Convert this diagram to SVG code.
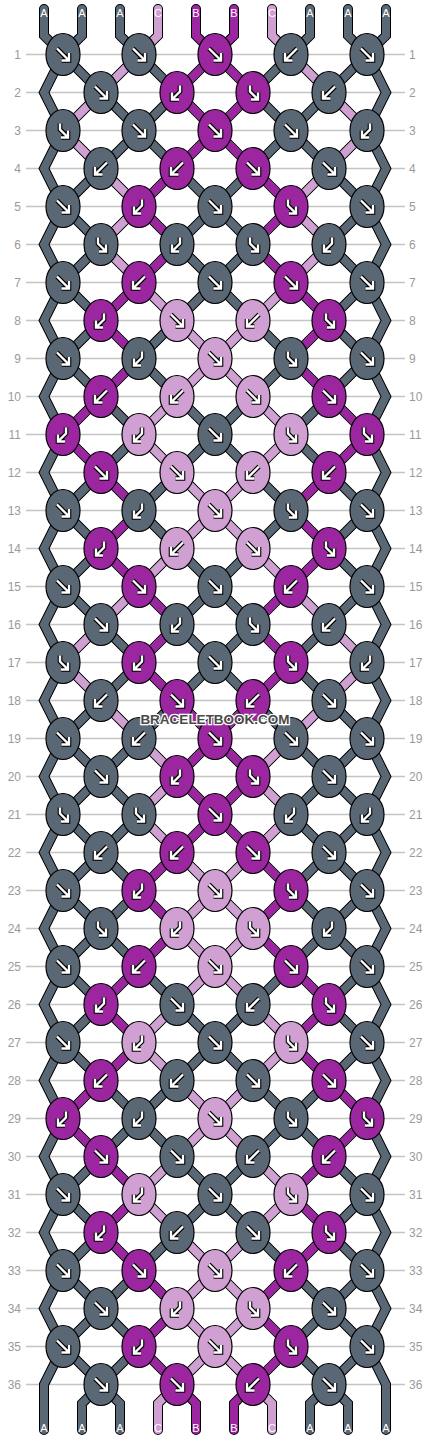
<svg xmlns="http://www.w3.org/2000/svg" width="430" height="1440" viewBox="0 0 430 1440">
<style>
.rl{fill:none;stroke:#c4c4c4;stroke-width:1.3}
.rn{font-family:"Liberation Sans",Arial,sans-serif;font-size:12px;fill:#9a9a9a}
.ol{fill:none;stroke:#000;stroke-width:10;stroke-linecap:round;stroke-linejoin:miter}
.f{fill:none;stroke-width:8;stroke-linecap:round;stroke-linejoin:miter}
.fA{stroke:#5a6875}.fB{stroke:#9b26a0}.fC{stroke:#d0a0d2}
ellipse{stroke:#000;stroke-width:1.2}
.kA ellipse{fill:#5a6875}.kB ellipse{fill:#9b26a0}.kC ellipse{fill:#d0a0d2}
.go{fill:none;stroke:#000;stroke-width:4.6}
.gi{fill:none;stroke:#fff;stroke-width:2.4}
.lb{font-family:"Liberation Sans",Arial,sans-serif;font-size:11px;fill:#fff;text-anchor:middle}
.wm{font-family:"Liberation Sans",Arial,sans-serif;font-size:13.5px;font-weight:bold;fill:#4a4a4a;stroke:#fff;stroke-width:2.5;paint-order:stroke;text-anchor:middle}
</style>
<defs>
<path id="pf" d="M-6-6L5.5 5.5M6-1.5V6H-1.5"/>
<path id="pb" d="M6-6L-5.5 5.5M-6-1.5V6H1.5"/>
<path id="pl" d="M3-7V-1L-4.5 6.5M-5 0V7H2"/>
<path id="pr" d="M-3-7V-1L4.5 6.5M5 0V7H-2"/>
<g id="gf"><use href="#pf" class="go"/><use href="#pf" class="gi"/></g>
<g id="gb"><use href="#pb" class="go"/><use href="#pb" class="gi"/></g>
<g id="gl"><use href="#pl" class="go"/><use href="#pl" class="gi"/></g>
<g id="gr"><use href="#pr" class="go"/><use href="#pr" class="gi"/></g>
</defs>
<g id="rows">
<path class="rl" d="M26 54.5H405M26 92.5H405M26 130.5H405M26 168.5H405M26 206.5H405M26 244.5H405M26 282.5H405M26 320.5H405M26 358.5H405M26 396.5H405M26 434.5H405M26 472.5H405M26 510.5H405M26 548.5H405M26 586.5H405M26 624.5H405M26 662.5H405M26 700.5H405M26 738.5H405M26 776.5H405M26 814.5H405M26 852.5H405M26 890.5H405M26 928.5H405M26 966.5H405M26 1004.5H405M26 1042.5H405M26 1080.5H405M26 1118.5H405M26 1156.5H405M26 1194.5H405M26 1232.5H405M26 1270.5H405M26 1308.5H405M26 1346.5H405M26 1384.5H405"/>
<g class="rn" text-anchor="end">
<text x="21" y="58.5">1</text><text x="21" y="96.5">2</text><text x="21" y="134.5">3</text><text x="21" y="172.5">4</text><text x="21" y="210.5">5</text><text x="21" y="248.5">6</text><text x="21" y="286.5">7</text><text x="21" y="324.5">8</text><text x="21" y="362.5">9</text><text x="21" y="400.5">10</text><text x="21" y="438.5">11</text><text x="21" y="476.5">12</text><text x="21" y="514.5">13</text><text x="21" y="552.5">14</text><text x="21" y="590.5">15</text><text x="21" y="628.5">16</text><text x="21" y="666.5">17</text><text x="21" y="704.5">18</text><text x="21" y="742.5">19</text><text x="21" y="780.5">20</text><text x="21" y="818.5">21</text><text x="21" y="856.5">22</text><text x="21" y="894.5">23</text><text x="21" y="932.5">24</text><text x="21" y="970.5">25</text><text x="21" y="1008.5">26</text><text x="21" y="1046.5">27</text><text x="21" y="1084.5">28</text><text x="21" y="1122.5">29</text><text x="21" y="1160.5">30</text><text x="21" y="1198.5">31</text><text x="21" y="1236.5">32</text><text x="21" y="1274.5">33</text><text x="21" y="1312.5">34</text><text x="21" y="1350.5">35</text><text x="21" y="1388.5">36</text>
</g>
<g class="rn" text-anchor="start">
<text x="409" y="58.5">1</text><text x="409" y="96.5">2</text><text x="409" y="134.5">3</text><text x="409" y="172.5">4</text><text x="409" y="210.5">5</text><text x="409" y="248.5">6</text><text x="409" y="286.5">7</text><text x="409" y="324.5">8</text><text x="409" y="362.5">9</text><text x="409" y="400.5">10</text><text x="409" y="438.5">11</text><text x="409" y="476.5">12</text><text x="409" y="514.5">13</text><text x="409" y="552.5">14</text><text x="409" y="590.5">15</text><text x="409" y="628.5">16</text><text x="409" y="666.5">17</text><text x="409" y="704.5">18</text><text x="409" y="742.5">19</text><text x="409" y="780.5">20</text><text x="409" y="818.5">21</text><text x="409" y="856.5">22</text><text x="409" y="894.5">23</text><text x="409" y="932.5">24</text><text x="409" y="970.5">25</text><text x="409" y="1008.5">26</text><text x="409" y="1046.5">27</text><text x="409" y="1084.5">28</text><text x="409" y="1122.5">29</text><text x="409" y="1160.5">30</text><text x="409" y="1198.5">31</text><text x="409" y="1236.5">32</text><text x="409" y="1274.5">33</text><text x="409" y="1312.5">34</text><text x="409" y="1350.5">35</text><text x="409" y="1388.5">36</text>
</g>
</g>
<g id="connectors">
<path id="lattice" class="ol" d="M291 54.5l76 76M215 54.5l152 152M139 54.5l228 228M63 54.5l304 304M63 130.5l304 304M63 206.5l304 304M63 282.5l304 304M63 358.5l304 304M63 434.5l304 304M63 510.5l304 304M63 586.5l304 304M63 662.5l304 304M63 738.5l304 304M63 814.5l304 304M63 890.5l304 304M63 966.5l304 304M63 1042.5l304 304M63 1118.5l266 266M63 1194.5l190 190M63 1270.5l114 114M63 1346.5l38 38M139 54.5l-76 76M215 54.5l-152 152M291 54.5l-228 228M367 54.5l-304 304M367 130.5l-304 304M367 206.5l-304 304M367 282.5l-304 304M367 358.5l-304 304M367 434.5l-304 304M367 510.5l-304 304M367 586.5l-304 304M367 662.5l-304 304M367 738.5l-304 304M367 814.5l-304 304M367 890.5l-304 304M367 966.5l-304 304M367 1042.5l-304 304M367 1118.5l-266 266M367 1194.5l-190 190M367 1270.5l-114 114M367 1346.5l-38 38M44 9V35.5L63 54.5l-19 38l19 38l-19 38l19 38l-19 38l19 38l-19 38l19 38l-19 38l19 38l-19 38l19 38l-19 38l19 38l-19 38l19 38l-19 38l19 38l-19 38l19 38l-19 38l19 38l-19 38l19 38l-19 38l19 38l-19 38l19 38l-19 38l19 38l-19 38l19 38l-19 38l19 38l-19 38V1430M386 9V35.5L367 54.5l19 38l-19 38l19 38l-19 38l19 38l-19 38l19 38l-19 38l19 38l-19 38l19 38l-19 38l19 38l-19 38l19 38l-19 38l19 38l-19 38l19 38l-19 38l19 38l-19 38l19 38l-19 38l19 38l-19 38l19 38l-19 38l19 38l-19 38l19 38l-19 38l19 38l-19 38l19 38V1430M82 9V35.5L63 54.5M120 9V35.5L139 54.5M158 9V35.5L139 54.5M196 9V35.5L215 54.5M234 9V35.5L215 54.5M272 9V35.5L291 54.5M310 9V35.5L291 54.5M348 9V35.5L367 54.5M101 1384.5L82 1403.5V1430M101 1384.5L120 1403.5V1430M177 1384.5L158 1403.5V1430M177 1384.5L196 1403.5V1430M253 1384.5L234 1403.5V1430M253 1384.5L272 1403.5V1430M329 1384.5L310 1403.5V1430M329 1384.5L348 1403.5V1430"/>
<path class="f fA" d="M291 54.5l76 76M215 54.5l152 152M139 54.5l228 228M63 54.5l304 304M63 130.5l304 304M63 206.5l304 304M63 282.5l304 304M63 358.5l304 304M63 434.5l304 304M63 510.5l304 304M63 586.5l304 304M63 662.5l304 304M63 738.5l304 304M63 814.5l304 304M63 890.5l304 304M63 966.5l304 304M63 1042.5l304 304M63 1118.5l266 266M63 1194.5l190 190M63 1270.5l114 114M63 1346.5l38 38M139 54.5l-76 76M215 54.5l-152 152M291 54.5l-228 228M367 54.5l-304 304M367 130.5l-304 304M367 206.5l-304 304M367 282.5l-304 304M367 358.5l-304 304M367 434.5l-304 304M367 510.5l-304 304M367 586.5l-304 304M367 662.5l-304 304M367 738.5l-304 304M367 814.5l-304 304M367 890.5l-304 304M367 966.5l-304 304M367 1042.5l-304 304M367 1118.5l-266 266M367 1194.5l-190 190M367 1270.5l-114 114M367 1346.5l-38 38M44 9V35.5L63 54.5l-19 38l19 38l-19 38l19 38l-19 38l19 38l-19 38l19 38l-19 38l19 38l-19 38l19 38l-19 38l19 38l-19 38l19 38l-19 38l19 38l-19 38l19 38l-19 38l19 38l-19 38l19 38l-19 38l19 38l-19 38l19 38l-19 38l19 38l-19 38l19 38l-19 38l19 38l-19 38V1430M386 9V35.5L367 54.5l19 38l-19 38l19 38l-19 38l19 38l-19 38l19 38l-19 38l19 38l-19 38l19 38l-19 38l19 38l-19 38l19 38l-19 38l19 38l-19 38l19 38l-19 38l19 38l-19 38l19 38l-19 38l19 38l-19 38l19 38l-19 38l19 38l-19 38l19 38l-19 38l19 38l-19 38l19 38V1430M82 9V35.5L63 54.5M120 9V35.5L139 54.5M310 9V35.5L291 54.5M348 9V35.5L367 54.5M101 1384.5L82 1403.5V1430M101 1384.5L120 1403.5V1430M329 1384.5L310 1403.5V1430M329 1384.5L348 1403.5V1430"/>
<path class="f fC" d="M158 9V35.5L139 54.5M272 9V35.5L291 54.5M177 1384.5L158 1403.5V1430M253 1384.5L272 1403.5V1430"/>
<path class="f fB" d="M196 9V35.5L215 54.5M234 9V35.5L215 54.5M177 1384.5L196 1403.5V1430M253 1384.5L234 1403.5V1430"/>
<path class="f fB" d="M215 54.5l-38 38M215 54.5l38 38M177 92.5l38 38M253 92.5l-38 38M215 130.5l-38 38M215 130.5l38 38M177 168.5l-38 38M253 168.5l38 38M139 206.5l38 38M291 206.5l-38 38M177 244.5l-38 38M253 244.5l38 38M139 282.5l-38 38M291 282.5l38 38M101 320.5l38 38M329 320.5l-38 38M139 358.5l-38 38M291 358.5l38 38M101 396.5l-38 38M329 396.5l38 38M63 434.5l38 38M367 434.5l-38 38M101 472.5l38 38M329 472.5l-38 38M139 510.5l-38 38M291 510.5l38 38M101 548.5l38 38M329 548.5l-38 38M139 586.5l38 38M291 586.5l-38 38M177 624.5l-38 38M253 624.5l38 38M139 662.5l38 38M291 662.5l-38 38M177 700.5l38 38M253 700.5l-38 38M215 738.5l-38 38M215 738.5l38 38M177 776.5l38 38M253 776.5l-38 38M215 814.5l-38 38M215 814.5l38 38M177 852.5l-38 38M253 852.5l38 38M139 890.5l38 38M291 890.5l-38 38M177 928.5l-38 38M253 928.5l38 38M139 966.5l-38 38M291 966.5l38 38M101 1004.5l38 38M329 1004.5l-38 38M139 1042.5l-38 38M291 1042.5l38 38M101 1080.5l-38 38M329 1080.5l38 38M63 1118.5l38 38M367 1118.5l-38 38M101 1156.5l38 38M329 1156.5l-38 38M139 1194.5l-38 38M291 1194.5l38 38M101 1232.5l38 38M329 1232.5l-38 38M139 1270.5l38 38M291 1270.5l-38 38M177 1308.5l-38 38M253 1308.5l38 38M139 1346.5l38 38M291 1346.5l-38 38"/>
<path class="f fC" d="M139 54.5l-38 38M291 54.5l38 38M101 92.5l-38 38M329 92.5l38 38M63 130.5l38 38M367 130.5l-38 38M101 168.5l38 38M329 168.5l-38 38M139 206.5l-38 38M291 206.5l38 38M101 244.5l38 38M329 244.5l-38 38M139 282.5l38 38M291 282.5l-38 38M177 320.5l38 38M253 320.5l-38 38M215 358.5l-38 38M215 358.5l38 38M177 396.5l-38 38M253 396.5l38 38M139 434.5l38 38M291 434.5l-38 38M177 472.5l38 38M253 472.5l-38 38M215 510.5l-38 38M215 510.5l38 38M177 548.5l-38 38M253 548.5l38 38M139 586.5l-38 38M291 586.5l38 38M101 624.5l-38 38M329 624.5l38 38M63 662.5l38 38M367 662.5l-38 38M101 700.5l38 38M329 700.5l-38 38M139 738.5l38 38M291 738.5l-38 38M177 776.5l-38 38M253 776.5l38 38M139 814.5l38 38M291 814.5l-38 38M177 852.5l38 38M253 852.5l-38 38M215 890.5l-38 38M215 890.5l38 38M177 928.5l38 38M253 928.5l-38 38M215 966.5l-38 38M215 966.5l38 38M177 1004.5l-38 38M253 1004.5l38 38M139 1042.5l38 38M291 1042.5l-38 38M177 1080.5l38 38M253 1080.5l-38 38M215 1118.5l-38 38M215 1118.5l38 38M177 1156.5l-38 38M253 1156.5l38 38M139 1194.5l38 38M291 1194.5l-38 38M177 1232.5l38 38M253 1232.5l-38 38M215 1270.5l-38 38M215 1270.5l38 38M177 1308.5l38 38M253 1308.5l-38 38M215 1346.5l-38 38M215 1346.5l38 38"/>
</g>
<g id="knots">
<g id="k1-1" class="kA" transform="translate(63 54.5)"><ellipse rx="17" ry="21"/><use href="#gf"/></g>
<g id="k1-2" class="kA" transform="translate(139 54.5)"><ellipse rx="17" ry="21"/><use href="#gf"/></g>
<g id="k1-3" class="kB" transform="translate(215 54.5)"><ellipse rx="17" ry="21"/><use href="#gf"/></g>
<g id="k1-4" class="kA" transform="translate(291 54.5)"><ellipse rx="17" ry="21"/><use href="#gb"/></g>
<g id="k1-5" class="kA" transform="translate(367 54.5)"><ellipse rx="17" ry="21"/><use href="#gf"/></g>
<g id="k2-1" class="kA" transform="translate(101 92.5)"><ellipse rx="17" ry="21"/><use href="#gf"/></g>
<g id="k2-2" class="kB" transform="translate(177 92.5)"><ellipse rx="17" ry="21"/><use href="#gl"/></g>
<g id="k2-3" class="kB" transform="translate(253 92.5)"><ellipse rx="17" ry="21"/><use href="#gr"/></g>
<g id="k2-4" class="kA" transform="translate(329 92.5)"><ellipse rx="17" ry="21"/><use href="#gb"/></g>
<g id="k3-1" class="kA" transform="translate(63 130.5)"><ellipse rx="17" ry="21"/><use href="#gr"/></g>
<g id="k3-2" class="kA" transform="translate(139 130.5)"><ellipse rx="17" ry="21"/><use href="#gf"/></g>
<g id="k3-3" class="kB" transform="translate(215 130.5)"><ellipse rx="17" ry="21"/><use href="#gf"/></g>
<g id="k3-4" class="kA" transform="translate(291 130.5)"><ellipse rx="17" ry="21"/><use href="#gf"/></g>
<g id="k3-5" class="kA" transform="translate(367 130.5)"><ellipse rx="17" ry="21"/><use href="#gl"/></g>
<g id="k4-1" class="kA" transform="translate(101 168.5)"><ellipse rx="17" ry="21"/><use href="#gb"/></g>
<g id="k4-2" class="kB" transform="translate(177 168.5)"><ellipse rx="17" ry="21"/><use href="#gb"/></g>
<g id="k4-3" class="kB" transform="translate(253 168.5)"><ellipse rx="17" ry="21"/><use href="#gf"/></g>
<g id="k4-4" class="kA" transform="translate(329 168.5)"><ellipse rx="17" ry="21"/><use href="#gf"/></g>
<g id="k5-1" class="kA" transform="translate(63 206.5)"><ellipse rx="17" ry="21"/><use href="#gf"/></g>
<g id="k5-2" class="kB" transform="translate(139 206.5)"><ellipse rx="17" ry="21"/><use href="#gl"/></g>
<g id="k5-3" class="kA" transform="translate(215 206.5)"><ellipse rx="17" ry="21"/><use href="#gf"/></g>
<g id="k5-4" class="kB" transform="translate(291 206.5)"><ellipse rx="17" ry="21"/><use href="#gr"/></g>
<g id="k5-5" class="kA" transform="translate(367 206.5)"><ellipse rx="17" ry="21"/><use href="#gf"/></g>
<g id="k6-1" class="kA" transform="translate(101 244.5)"><ellipse rx="17" ry="21"/><use href="#gr"/></g>
<g id="k6-2" class="kA" transform="translate(177 244.5)"><ellipse rx="17" ry="21"/><use href="#gl"/></g>
<g id="k6-3" class="kA" transform="translate(253 244.5)"><ellipse rx="17" ry="21"/><use href="#gr"/></g>
<g id="k6-4" class="kA" transform="translate(329 244.5)"><ellipse rx="17" ry="21"/><use href="#gl"/></g>
<g id="k7-1" class="kA" transform="translate(63 282.5)"><ellipse rx="17" ry="21"/><use href="#gf"/></g>
<g id="k7-2" class="kB" transform="translate(139 282.5)"><ellipse rx="17" ry="21"/><use href="#gb"/></g>
<g id="k7-3" class="kA" transform="translate(215 282.5)"><ellipse rx="17" ry="21"/><use href="#gf"/></g>
<g id="k7-4" class="kB" transform="translate(291 282.5)"><ellipse rx="17" ry="21"/><use href="#gf"/></g>
<g id="k7-5" class="kA" transform="translate(367 282.5)"><ellipse rx="17" ry="21"/><use href="#gf"/></g>
<g id="k8-1" class="kB" transform="translate(101 320.5)"><ellipse rx="17" ry="21"/><use href="#gl"/></g>
<g id="k8-2" class="kC" transform="translate(177 320.5)"><ellipse rx="17" ry="21"/><use href="#gf"/></g>
<g id="k8-3" class="kC" transform="translate(253 320.5)"><ellipse rx="17" ry="21"/><use href="#gb"/></g>
<g id="k8-4" class="kB" transform="translate(329 320.5)"><ellipse rx="17" ry="21"/><use href="#gr"/></g>
<g id="k9-1" class="kA" transform="translate(63 358.5)"><ellipse rx="17" ry="21"/><use href="#gf"/></g>
<g id="k9-2" class="kA" transform="translate(139 358.5)"><ellipse rx="17" ry="21"/><use href="#gl"/></g>
<g id="k9-3" class="kC" transform="translate(215 358.5)"><ellipse rx="17" ry="21"/><use href="#gf"/></g>
<g id="k9-4" class="kA" transform="translate(291 358.5)"><ellipse rx="17" ry="21"/><use href="#gr"/></g>
<g id="k9-5" class="kA" transform="translate(367 358.5)"><ellipse rx="17" ry="21"/><use href="#gf"/></g>
<g id="k10-1" class="kB" transform="translate(101 396.5)"><ellipse rx="17" ry="21"/><use href="#gb"/></g>
<g id="k10-2" class="kC" transform="translate(177 396.5)"><ellipse rx="17" ry="21"/><use href="#gb"/></g>
<g id="k10-3" class="kC" transform="translate(253 396.5)"><ellipse rx="17" ry="21"/><use href="#gf"/></g>
<g id="k10-4" class="kB" transform="translate(329 396.5)"><ellipse rx="17" ry="21"/><use href="#gf"/></g>
<g id="k11-1" class="kB" transform="translate(63 434.5)"><ellipse rx="17" ry="21"/><use href="#gl"/></g>
<g id="k11-2" class="kC" transform="translate(139 434.5)"><ellipse rx="17" ry="21"/><use href="#gl"/></g>
<g id="k11-3" class="kA" transform="translate(215 434.5)"><ellipse rx="17" ry="21"/><use href="#gf"/></g>
<g id="k11-4" class="kC" transform="translate(291 434.5)"><ellipse rx="17" ry="21"/><use href="#gr"/></g>
<g id="k11-5" class="kB" transform="translate(367 434.5)"><ellipse rx="17" ry="21"/><use href="#gr"/></g>
<g id="k12-1" class="kB" transform="translate(101 472.5)"><ellipse rx="17" ry="21"/><use href="#gf"/></g>
<g id="k12-2" class="kC" transform="translate(177 472.5)"><ellipse rx="17" ry="21"/><use href="#gf"/></g>
<g id="k12-3" class="kC" transform="translate(253 472.5)"><ellipse rx="17" ry="21"/><use href="#gb"/></g>
<g id="k12-4" class="kB" transform="translate(329 472.5)"><ellipse rx="17" ry="21"/><use href="#gb"/></g>
<g id="k13-1" class="kA" transform="translate(63 510.5)"><ellipse rx="17" ry="21"/><use href="#gf"/></g>
<g id="k13-2" class="kA" transform="translate(139 510.5)"><ellipse rx="17" ry="21"/><use href="#gl"/></g>
<g id="k13-3" class="kC" transform="translate(215 510.5)"><ellipse rx="17" ry="21"/><use href="#gf"/></g>
<g id="k13-4" class="kA" transform="translate(291 510.5)"><ellipse rx="17" ry="21"/><use href="#gr"/></g>
<g id="k13-5" class="kA" transform="translate(367 510.5)"><ellipse rx="17" ry="21"/><use href="#gf"/></g>
<g id="k14-1" class="kB" transform="translate(101 548.5)"><ellipse rx="17" ry="21"/><use href="#gl"/></g>
<g id="k14-2" class="kC" transform="translate(177 548.5)"><ellipse rx="17" ry="21"/><use href="#gb"/></g>
<g id="k14-3" class="kC" transform="translate(253 548.5)"><ellipse rx="17" ry="21"/><use href="#gf"/></g>
<g id="k14-4" class="kB" transform="translate(329 548.5)"><ellipse rx="17" ry="21"/><use href="#gr"/></g>
<g id="k15-1" class="kA" transform="translate(63 586.5)"><ellipse rx="17" ry="21"/><use href="#gf"/></g>
<g id="k15-2" class="kB" transform="translate(139 586.5)"><ellipse rx="17" ry="21"/><use href="#gf"/></g>
<g id="k15-3" class="kA" transform="translate(215 586.5)"><ellipse rx="17" ry="21"/><use href="#gf"/></g>
<g id="k15-4" class="kB" transform="translate(291 586.5)"><ellipse rx="17" ry="21"/><use href="#gb"/></g>
<g id="k15-5" class="kA" transform="translate(367 586.5)"><ellipse rx="17" ry="21"/><use href="#gf"/></g>
<g id="k16-1" class="kA" transform="translate(101 624.5)"><ellipse rx="17" ry="21"/><use href="#gf"/></g>
<g id="k16-2" class="kA" transform="translate(177 624.5)"><ellipse rx="17" ry="21"/><use href="#gl"/></g>
<g id="k16-3" class="kA" transform="translate(253 624.5)"><ellipse rx="17" ry="21"/><use href="#gr"/></g>
<g id="k16-4" class="kA" transform="translate(329 624.5)"><ellipse rx="17" ry="21"/><use href="#gb"/></g>
<g id="k17-1" class="kA" transform="translate(63 662.5)"><ellipse rx="17" ry="21"/><use href="#gr"/></g>
<g id="k17-2" class="kB" transform="translate(139 662.5)"><ellipse rx="17" ry="21"/><use href="#gl"/></g>
<g id="k17-3" class="kA" transform="translate(215 662.5)"><ellipse rx="17" ry="21"/><use href="#gf"/></g>
<g id="k17-4" class="kB" transform="translate(291 662.5)"><ellipse rx="17" ry="21"/><use href="#gr"/></g>
<g id="k17-5" class="kA" transform="translate(367 662.5)"><ellipse rx="17" ry="21"/><use href="#gl"/></g>
<g id="k18-1" class="kA" transform="translate(101 700.5)"><ellipse rx="17" ry="21"/><use href="#gb"/></g>
<g id="k18-2" class="kB" transform="translate(177 700.5)"><ellipse rx="17" ry="21"/><use href="#gf"/></g>
<g id="k18-3" class="kB" transform="translate(253 700.5)"><ellipse rx="17" ry="21"/><use href="#gb"/></g>
<g id="k18-4" class="kA" transform="translate(329 700.5)"><ellipse rx="17" ry="21"/><use href="#gf"/></g>
<g id="k19-1" class="kA" transform="translate(63 738.5)"><ellipse rx="17" ry="21"/><use href="#gf"/></g>
<g id="k19-2" class="kA" transform="translate(139 738.5)"><ellipse rx="17" ry="21"/><use href="#gb"/></g>
<g id="k19-3" class="kB" transform="translate(215 738.5)"><ellipse rx="17" ry="21"/><use href="#gf"/></g>
<g id="k19-4" class="kA" transform="translate(291 738.5)"><ellipse rx="17" ry="21"/><use href="#gf"/></g>
<g id="k19-5" class="kA" transform="translate(367 738.5)"><ellipse rx="17" ry="21"/><use href="#gf"/></g>
<g id="k20-1" class="kA" transform="translate(101 776.5)"><ellipse rx="17" ry="21"/><use href="#gf"/></g>
<g id="k20-2" class="kB" transform="translate(177 776.5)"><ellipse rx="17" ry="21"/><use href="#gl"/></g>
<g id="k20-3" class="kB" transform="translate(253 776.5)"><ellipse rx="17" ry="21"/><use href="#gr"/></g>
<g id="k20-4" class="kA" transform="translate(329 776.5)"><ellipse rx="17" ry="21"/><use href="#gf"/></g>
<g id="k21-1" class="kA" transform="translate(63 814.5)"><ellipse rx="17" ry="21"/><use href="#gr"/></g>
<g id="k21-2" class="kA" transform="translate(139 814.5)"><ellipse rx="17" ry="21"/><use href="#gr"/></g>
<g id="k21-3" class="kB" transform="translate(215 814.5)"><ellipse rx="17" ry="21"/><use href="#gf"/></g>
<g id="k21-4" class="kA" transform="translate(291 814.5)"><ellipse rx="17" ry="21"/><use href="#gl"/></g>
<g id="k21-5" class="kA" transform="translate(367 814.5)"><ellipse rx="17" ry="21"/><use href="#gl"/></g>
<g id="k22-1" class="kA" transform="translate(101 852.5)"><ellipse rx="17" ry="21"/><use href="#gb"/></g>
<g id="k22-2" class="kB" transform="translate(177 852.5)"><ellipse rx="17" ry="21"/><use href="#gb"/></g>
<g id="k22-3" class="kB" transform="translate(253 852.5)"><ellipse rx="17" ry="21"/><use href="#gf"/></g>
<g id="k22-4" class="kA" transform="translate(329 852.5)"><ellipse rx="17" ry="21"/><use href="#gf"/></g>
<g id="k23-1" class="kA" transform="translate(63 890.5)"><ellipse rx="17" ry="21"/><use href="#gf"/></g>
<g id="k23-2" class="kB" transform="translate(139 890.5)"><ellipse rx="17" ry="21"/><use href="#gl"/></g>
<g id="k23-3" class="kC" transform="translate(215 890.5)"><ellipse rx="17" ry="21"/><use href="#gf"/></g>
<g id="k23-4" class="kB" transform="translate(291 890.5)"><ellipse rx="17" ry="21"/><use href="#gr"/></g>
<g id="k23-5" class="kA" transform="translate(367 890.5)"><ellipse rx="17" ry="21"/><use href="#gf"/></g>
<g id="k24-1" class="kA" transform="translate(101 928.5)"><ellipse rx="17" ry="21"/><use href="#gr"/></g>
<g id="k24-2" class="kC" transform="translate(177 928.5)"><ellipse rx="17" ry="21"/><use href="#gl"/></g>
<g id="k24-3" class="kC" transform="translate(253 928.5)"><ellipse rx="17" ry="21"/><use href="#gr"/></g>
<g id="k24-4" class="kA" transform="translate(329 928.5)"><ellipse rx="17" ry="21"/><use href="#gl"/></g>
<g id="k25-1" class="kA" transform="translate(63 966.5)"><ellipse rx="17" ry="21"/><use href="#gf"/></g>
<g id="k25-2" class="kB" transform="translate(139 966.5)"><ellipse rx="17" ry="21"/><use href="#gb"/></g>
<g id="k25-3" class="kC" transform="translate(215 966.5)"><ellipse rx="17" ry="21"/><use href="#gf"/></g>
<g id="k25-4" class="kB" transform="translate(291 966.5)"><ellipse rx="17" ry="21"/><use href="#gf"/></g>
<g id="k25-5" class="kA" transform="translate(367 966.5)"><ellipse rx="17" ry="21"/><use href="#gf"/></g>
<g id="k26-1" class="kB" transform="translate(101 1004.5)"><ellipse rx="17" ry="21"/><use href="#gl"/></g>
<g id="k26-2" class="kA" transform="translate(177 1004.5)"><ellipse rx="17" ry="21"/><use href="#gf"/></g>
<g id="k26-3" class="kA" transform="translate(253 1004.5)"><ellipse rx="17" ry="21"/><use href="#gb"/></g>
<g id="k26-4" class="kB" transform="translate(329 1004.5)"><ellipse rx="17" ry="21"/><use href="#gr"/></g>
<g id="k27-1" class="kA" transform="translate(63 1042.5)"><ellipse rx="17" ry="21"/><use href="#gf"/></g>
<g id="k27-2" class="kC" transform="translate(139 1042.5)"><ellipse rx="17" ry="21"/><use href="#gl"/></g>
<g id="k27-3" class="kA" transform="translate(215 1042.5)"><ellipse rx="17" ry="21"/><use href="#gf"/></g>
<g id="k27-4" class="kC" transform="translate(291 1042.5)"><ellipse rx="17" ry="21"/><use href="#gr"/></g>
<g id="k27-5" class="kA" transform="translate(367 1042.5)"><ellipse rx="17" ry="21"/><use href="#gf"/></g>
<g id="k28-1" class="kB" transform="translate(101 1080.5)"><ellipse rx="17" ry="21"/><use href="#gb"/></g>
<g id="k28-2" class="kA" transform="translate(177 1080.5)"><ellipse rx="17" ry="21"/><use href="#gb"/></g>
<g id="k28-3" class="kA" transform="translate(253 1080.5)"><ellipse rx="17" ry="21"/><use href="#gf"/></g>
<g id="k28-4" class="kB" transform="translate(329 1080.5)"><ellipse rx="17" ry="21"/><use href="#gf"/></g>
<g id="k29-1" class="kB" transform="translate(63 1118.5)"><ellipse rx="17" ry="21"/><use href="#gl"/></g>
<g id="k29-2" class="kA" transform="translate(139 1118.5)"><ellipse rx="17" ry="21"/><use href="#gl"/></g>
<g id="k29-3" class="kC" transform="translate(215 1118.5)"><ellipse rx="17" ry="21"/><use href="#gf"/></g>
<g id="k29-4" class="kA" transform="translate(291 1118.5)"><ellipse rx="17" ry="21"/><use href="#gr"/></g>
<g id="k29-5" class="kB" transform="translate(367 1118.5)"><ellipse rx="17" ry="21"/><use href="#gr"/></g>
<g id="k30-1" class="kB" transform="translate(101 1156.5)"><ellipse rx="17" ry="21"/><use href="#gf"/></g>
<g id="k30-2" class="kA" transform="translate(177 1156.5)"><ellipse rx="17" ry="21"/><use href="#gf"/></g>
<g id="k30-3" class="kA" transform="translate(253 1156.5)"><ellipse rx="17" ry="21"/><use href="#gb"/></g>
<g id="k30-4" class="kB" transform="translate(329 1156.5)"><ellipse rx="17" ry="21"/><use href="#gb"/></g>
<g id="k31-1" class="kA" transform="translate(63 1194.5)"><ellipse rx="17" ry="21"/><use href="#gf"/></g>
<g id="k31-2" class="kC" transform="translate(139 1194.5)"><ellipse rx="17" ry="21"/><use href="#gl"/></g>
<g id="k31-3" class="kA" transform="translate(215 1194.5)"><ellipse rx="17" ry="21"/><use href="#gf"/></g>
<g id="k31-4" class="kC" transform="translate(291 1194.5)"><ellipse rx="17" ry="21"/><use href="#gr"/></g>
<g id="k31-5" class="kA" transform="translate(367 1194.5)"><ellipse rx="17" ry="21"/><use href="#gf"/></g>
<g id="k32-1" class="kB" transform="translate(101 1232.5)"><ellipse rx="17" ry="21"/><use href="#gl"/></g>
<g id="k32-2" class="kA" transform="translate(177 1232.5)"><ellipse rx="17" ry="21"/><use href="#gb"/></g>
<g id="k32-3" class="kA" transform="translate(253 1232.5)"><ellipse rx="17" ry="21"/><use href="#gf"/></g>
<g id="k32-4" class="kB" transform="translate(329 1232.5)"><ellipse rx="17" ry="21"/><use href="#gr"/></g>
<g id="k33-1" class="kA" transform="translate(63 1270.5)"><ellipse rx="17" ry="21"/><use href="#gf"/></g>
<g id="k33-2" class="kB" transform="translate(139 1270.5)"><ellipse rx="17" ry="21"/><use href="#gf"/></g>
<g id="k33-3" class="kC" transform="translate(215 1270.5)"><ellipse rx="17" ry="21"/><use href="#gf"/></g>
<g id="k33-4" class="kB" transform="translate(291 1270.5)"><ellipse rx="17" ry="21"/><use href="#gb"/></g>
<g id="k33-5" class="kA" transform="translate(367 1270.5)"><ellipse rx="17" ry="21"/><use href="#gf"/></g>
<g id="k34-1" class="kA" transform="translate(101 1308.5)"><ellipse rx="17" ry="21"/><use href="#gf"/></g>
<g id="k34-2" class="kC" transform="translate(177 1308.5)"><ellipse rx="17" ry="21"/><use href="#gl"/></g>
<g id="k34-3" class="kC" transform="translate(253 1308.5)"><ellipse rx="17" ry="21"/><use href="#gr"/></g>
<g id="k34-4" class="kA" transform="translate(329 1308.5)"><ellipse rx="17" ry="21"/><use href="#gf"/></g>
<g id="k35-1" class="kA" transform="translate(63 1346.5)"><ellipse rx="17" ry="21"/><use href="#gf"/></g>
<g id="k35-2" class="kB" transform="translate(139 1346.5)"><ellipse rx="17" ry="21"/><use href="#gl"/></g>
<g id="k35-3" class="kC" transform="translate(215 1346.5)"><ellipse rx="17" ry="21"/><use href="#gf"/></g>
<g id="k35-4" class="kB" transform="translate(291 1346.5)"><ellipse rx="17" ry="21"/><use href="#gr"/></g>
<g id="k35-5" class="kA" transform="translate(367 1346.5)"><ellipse rx="17" ry="21"/><use href="#gf"/></g>
<g id="k36-1" class="kA" transform="translate(101 1384.5)"><ellipse rx="17" ry="21"/><use href="#gf"/></g>
<g id="k36-2" class="kB" transform="translate(177 1384.5)"><ellipse rx="17" ry="21"/><use href="#gf"/></g>
<g id="k36-3" class="kB" transform="translate(253 1384.5)"><ellipse rx="17" ry="21"/><use href="#gb"/></g>
<g id="k36-4" class="kA" transform="translate(329 1384.5)"><ellipse rx="17" ry="21"/><use href="#gf"/></g>
</g>
<g id="labels" class="lb">
<text x="44" y="16.5">A</text><text x="82" y="16.5">A</text><text x="120" y="16.5">A</text><text x="158" y="16.5">C</text><text x="196" y="16.5">B</text><text x="234" y="16.5">B</text><text x="272" y="16.5">C</text><text x="310" y="16.5">A</text><text x="348" y="16.5">A</text><text x="386" y="16.5">A</text>
<text x="44" y="1432">A</text><text x="82" y="1432">A</text><text x="120" y="1432">A</text><text x="158" y="1432">C</text><text x="196" y="1432">B</text><text x="234" y="1432">B</text><text x="272" y="1432">C</text><text x="310" y="1432">A</text><text x="348" y="1432">A</text><text x="386" y="1432">A</text>
</g>
<text class="wm" x="215" y="724">BRACELETBOOK.COM</text>
</svg>
